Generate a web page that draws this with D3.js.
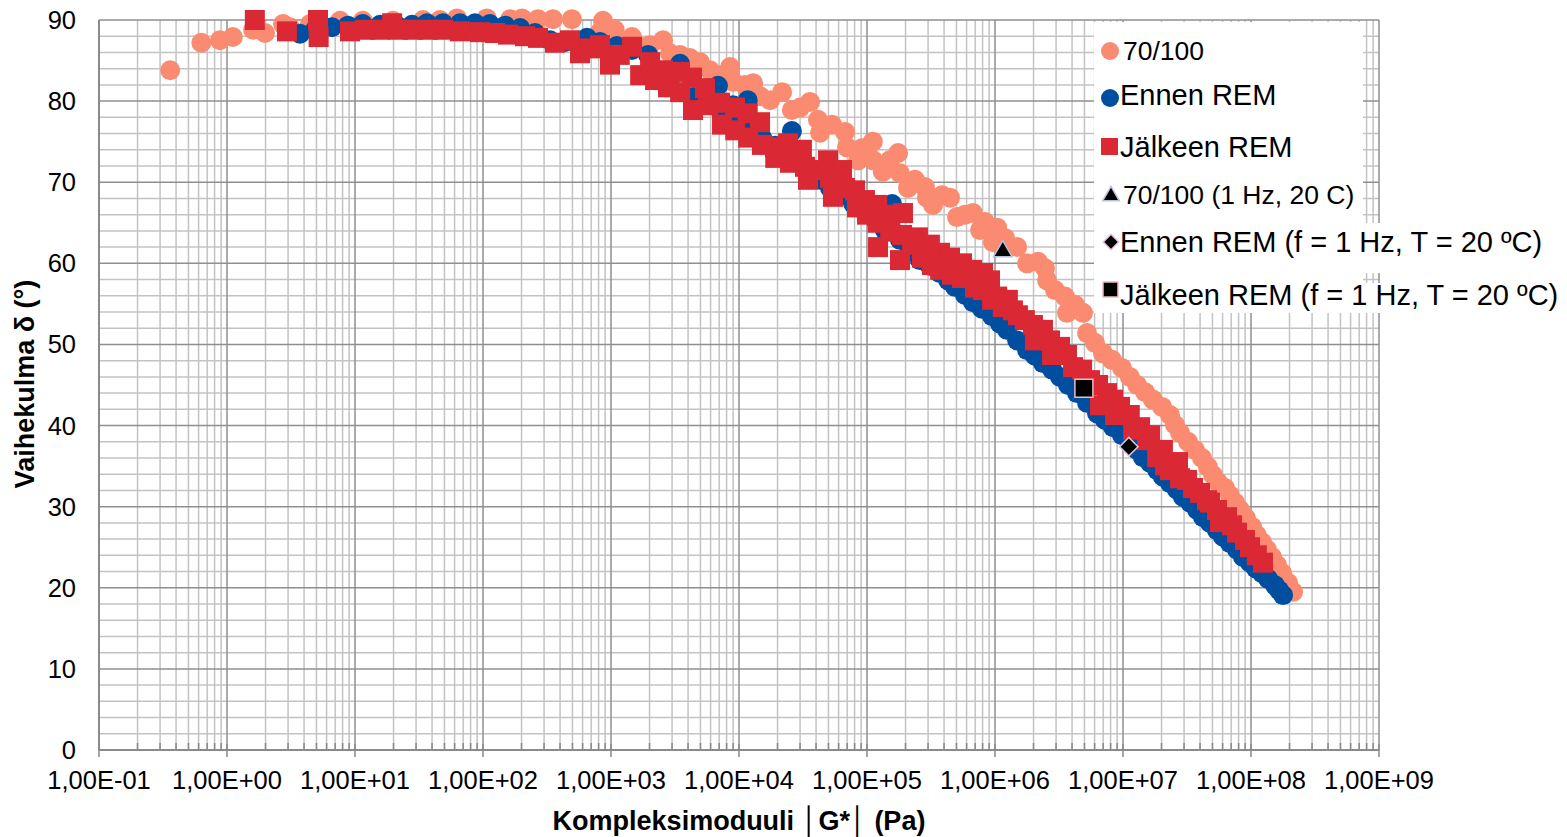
<!DOCTYPE html>
<html>
<head>
<meta charset="utf-8">
<script src="https://cdn.jsdelivr.net/npm/d3@7"></script>
<style>
body { margin: 0; background: #ffffff; }
text { font-family: "Liberation Sans", Arial, sans-serif; fill: #000; }
</style>
</head>
<body>
<script>
let width = 1567
let height = 837

// 70/100
let g70 = [0.36, 0.63, 0.88, 1.11, 1.6, 1.98, 2.74, 3.1, 4.45, 7.64, 11.5, 19.8, 34, 46.1, 62.7, 107, 163, 202, 269, 352, 495, 866, 820,
	1.46e3, 1.69e3, 2.55e3, 2.89e3, 4.14e3, 4.95e3, 7.11e3, 8.51e3, 8.97e3, 1.29e4, 1.46e4, 2.17e4, 2.59e4, 3.59e4, 4.14e4, 4.3e4, 6.73e4, 6.98e4, 8.51e4,
	1.11e5, 1.12e5, 1.33e5, 1.75e5, 1.81e5, 2.09e5, 2.84e5, 2.94e5, 3.28e5, 4.45e5, 5.05e5, 6.73e5, 7.64e5, 1.04e6, 9.64e5, 1.49e6, 1.78e6, 2.17e6, 2.55e6,
	3.52e6, 3.65e6, 4.87e6, 5.24e6, 6.98e6, 9.82e6, 1.29e7, 1.71e7, 2.33e7, 2.79e7, 3.65e7, 4.61e7, 5.52e7, 6.85e7, 8.2e7, 1.02e8, 1.22e8, 1.46e8, 1.75e8, 2.13e8,
	1.07e3, 2.02e3, 3.46e3, 5.93e3, 1.11e4, 1.75e4, 3.0e4, 5.33e4, 9.14e4, 1.51e5, 2.37e5, 3.86e5, 5.83e5, 8.35e5, 1.2e6, 2.46e6, 2.94e6, 4.22e6,
	6.04e6, 8.2e6, 1.13e7, 1.49e7, 2.02e7, 2.55e7, 3.22e7, 4.14e7, 5.05e7, 6.27e7, 7.5e7, 9.14e7, 1.11e8, 1.33e8, 1.6e8, 1.95e8]
let d70 = [83.8, 87.2, 87.5, 87.9, 88.8, 88.4, 89.5, 89.1, 89.5, 89.9, 89.9, 89.9, 90.0, 90.0, 90.2, 90.2, 90.1, 90.2, 90.1, 90.1, 90.1, 89.9, 88.5,
	87.9, 86.7, 87.5, 85.9, 85.3, 84.8, 83.2, 84.2, 82.4, 82.2, 80.6, 81.1, 78.9, 79.9, 77.7, 76.1, 76.2, 74.3, 72.7,
	75.0, 72.7, 71.3, 73.6, 71.1, 69.3, 69.4, 68.1, 67.2, 68.1, 65.7, 66.2, 64.1, 64.4, 62.6, 62.0, 60.0, 60.2, 57.9,
	55.9, 53.9, 53.9, 51.4, 48.9, 47.1, 45.0, 43.2, 41.3, 39.1, 37.0, 34.9, 33.0, 31.4, 29.6, 27.5, 25.6, 23.8, 21.8, 19.5,
	88.8, 86.9, 85.7, 83.8, 82.0, 80.1, 79.2, 77.1, 74.2, 72.7, 70.3, 68.4, 66.0, 65.1, 63.1, 59.4, 56.7, 54.9,
	50.2, 48.1, 46.0, 44.1, 42.3, 40.1, 38.0, 36.0, 33.9, 32.3, 30.5, 28.6, 26.5, 24.7, 22.8, 20.6]

// Ennen REM
let gEnnen = [3.72, 6.61, 11.5, 21.3, 36.5, 66.1, 113, 195, 334, 649, 1.11e3, 1.95e3, 2.64e3, 3.46e3, 4.37e3, 6.85e3, 7.11e3, 1.17e4, 1.22e4,
	1.91e4, 2.59e4, 3.1e4, 3.59e4, 5.93e4, 5.14e4, 7.78e4, 1.17e5, 1.57e5, 1.81e5, 2.59e5, 3.72e5, 4.87e5, 6.73e5, 9.48e5,
	1.24e6, 1.78e6, 2.37e6, 3.22e6, 4.37e6, 6.27e6, 8.35e6, 1.13e7, 1.43e7, 1.85e7, 2.33e7, 2.94e7, 3.79e7, 4.78e7, 6.04e7, 7.78e7, 9.82e7, 1.22e8, 1.54e8, 1.78e8,
	4.87, 8.81, 15.7, 27.9, 48.7, 86.6, 149, 255, 437, 820, 1.46e3, 2.33e3, 3.0e3, 5.42e3, 8.97e3, 9.31e3, 1.51e4, 2.29e4, 4.3e4, 6.73e4, 9.64e4,
	1.38e5, 2.17e5, 3.1e5, 4.3e5, 5.83e5, 7.91e5, 1.09e6, 1.49e6, 2.05e6, 2.79e6, 3.72e6, 5.24e6, 7.23e6, 9.82e6, 1.29e7, 1.63e7, 2.05e7,
	2.64e7, 3.34e7, 4.22e7, 5.42e7, 6.85e7, 8.66e7, 1.09e8, 1.36e8, 1.66e8]
let dEnnen = [88.3, 89.1, 89.5, 89.3, 89.6, 89.6, 89.5, 89.0, 87.5, 87.8, 86.8, 85.7, 82.2, 84.6, 80.5, 81.9, 78.9, 80.1, 76.4,
	74.5, 76.3, 72.1, 70.9, 70.9, 69.3, 67.4, 65.3, 67.3, 62.9, 60.4, 58.8, 57.1, 55.2, 53.5,
	51.8, 49.3, 47.7, 46.0, 44.0, 41.5, 39.8, 37.8, 36.1, 34.5, 32.9, 31.2, 29.6, 28.0, 26.3, 24.7, 23.1, 21.8, 20.3, 19.1,
	88.8, 89.3, 89.4, 89.4, 89.6, 89.6, 89.3, 88.4, 87.3, 87.3, 86.3, 83.8, 83.2, 81.1, 79.5, 77.7, 75.5, 74.0, 70.3, 68.4, 66.3,
	64.1, 61.6, 59.7, 57.9, 56.1, 54.4, 52.6, 50.5, 48.6, 46.9, 45.0, 42.8, 40.7, 38.8, 37.0, 35.4, 33.7,
	32.1, 30.5, 28.7, 27.1, 25.5, 23.8, 22.4, 21.1, 19.7]

// Jälkeen REM
let gJalkeen = [1.65, 2.94, 5.14, 5.2, 9.14, 15.7, 19.5, 28.4, 48.7, 94.8, 157, 269, 478, 573, 820, 982, 1.46e3, 1.69e3, 2.55e3, 2.79e3, 4.3e3, 4.37e3,
	7.11e3, 7.37e3, 1.17e4, 1.18e4, 1.91e4, 1.92e4, 3.1e4, 3.28e4, 3.46e4, 4.96e4, 5.14e4, 5.42e4, 8.06e4, 8.35e4, 1.2e5, 1.21e5, 1.22e5,
	1.91e5, 1.88e5, 1.81e5, 2.5e5, 2.69e5, 3.72e5, 3.73e5, 5.52e5, 5.53e5, 8.06e5, 8.07e5, 1.04e6, 1.15e6, 1.38e6, 1.71e6, 2.37e6, 3.22e6,
	4.07e6, 5.52e6, 7.5e6, 9.48e6, 1.36e7, 1.54e7, 1.85e7, 2.33e7, 3.16e7, 4.0e7, 4.78e7, 6.49e7, 7.78e7, 9.82e7, 1.24e8,
	12.0, 21.7, 37.2, 66.1, 124, 213, 365, 685, 1.17e3, 2.02e3, 2.21e3, 3.46e3, 3.47e3, 5.42e3, 5.73e3, 9.31e3, 9.35e3, 1.46e4, 1.51e4, 2.42e4, 2.5e4,
	3.93e4, 6.38e4, 6.73e4, 9.64e4, 1.0e5, 1.51e5, 1.52e5, 2.25e5, 3.1e5, 3.22e5, 4.45e5, 4.61e5, 6.61e5, 6.98e5, 9.14e5, 9.48e5, 1.26e6,
	1.51e6, 1.98e6, 2.05e6, 2.69e6, 2.79e6, 3.65e6, 4.79e6, 6.38e6, 6.61e6, 8.35e6, 8.66e6, 1.13e7, 1.2e7, 1.63e7, 2.05e7, 2.13e7, 2.69e7, 2.79e7,
	3.52e7, 4.53e7, 5.42e7, 5.73e7, 7.11e7, 8.97e7, 1.11e8]
let dJalkeen = [90.0, 88.6, 90.0, 87.9, 88.6, 88.8, 89.6, 88.8, 88.8, 88.5, 88.2, 87.8, 87.5, 85.9, 86.9, 84.5, 86.7, 83.2, 83.8, 81.7, 82.9, 78.9,
	79.8, 77.1, 78.5, 75.5, 74.3, 73.0, 74.0, 71.9, 70.3, 72.7, 70.5, 68.2, 69.0, 66.9, 67.2, 65.0, 62.0,
	66.2, 63.5, 60.4, 63.2, 60.7, 61.3, 59.2, 60.0, 58.2, 58.8, 56.7, 55.9, 54.6, 54.2, 53.0, 51.8, 49.7,
	47.2, 45.6, 44.0, 42.3, 39.8, 38.2, 36.1, 34.5, 33.3, 31.7, 30.5, 28.7, 26.8, 25.0, 23.1,
	88.8, 88.8, 88.8, 88.6, 88.4, 88.0, 87.2, 86.5, 85.7, 84.8, 82.6, 83.6, 81.1, 81.6, 79.5, 79.2, 76.4, 77.4, 74.6, 74.8, 72.4,
	71.5, 71.5, 69.3, 67.8, 66.0, 66.0, 63.9, 62.3, 62.3, 59.8, 60.7, 58.6, 59.2, 57.0, 57.9, 55.5, 55.5,
	53.6, 52.4, 50.5, 50.5, 48.7, 48.7, 46.9, 45.0, 42.5, 43.2, 41.3, 41.3, 39.5, 38.8, 37.0, 35.1, 35.5, 33.5,
	32.3, 30.8, 29.6, 28.1, 27.7, 25.9, 24.0]

// single points at f = 1 Hz, T = 20 C
let g70Ref = [1.15e6], d70Ref = [61.6]
let gEnnenRef = [1.11e7], dEnnenRef = [37.4]
let gJalkeenRef = [4.95e6], dJalkeenRef = [44.6]

let xTicks = [1e-1, 1e0, 1e1, 1e2, 1e3, 1e4, 1e5, 1e6, 1e7, 1e8, 1e9]
let xTickLabels = ["1,00E-01", "1,00E+00", "1,00E+01", "1,00E+02", "1,00E+03", "1,00E+04", "1,00E+05", "1,00E+06", "1,00E+07", "1,00E+08", "1,00E+09"]
let yTicks = [0, 10, 20, 30, 40, 50, 60, 70, 80, 90]

let legendNames = ["70/100", "Ennen REM", "Jälkeen REM", "70/100 (1 Hz, 20 C)", "Ennen REM (f = 1 Hz, T = 20 ºC)", "Jälkeen REM (f = 1 Hz, T = 20 ºC)"]

let cSalmon = "#fa8b70"
let cBlue = "#004ea0"
let cRed = "#da2834"

let x = d3.scaleLog().domain([0.1, 1e9]).range([99, 1379])
let y = d3.scaleLinear().domain([0, 90]).range([750, 20])

let svg = d3.select("body")
.append("svg")
.attr("width", width)
.attr("height", height)
.style("display", "block")
.style("background", "#ffffff")

// minor grid
let minorX = []
for (let e = -1; e < 9; e++) {
	for (let k = 2; k <= 9; k++) minorX.push(k * Math.pow(10, e))
}
let minorY = d3.range(0, 91, 2).filter(v => v % 10 !== 0)

let grid = svg.append("g")
grid.selectAll(".mx").data(minorX).enter().append("line")
.attr("x1", d => x(d)).attr("x2", d => x(d))
.attr("y1", y(90)).attr("y2", y(0))
.style("stroke", "#c3c3c3").style("stroke-width", 1.5)
grid.selectAll(".my").data(minorY).enter().append("line")
.attr("x1", x(0.1)).attr("x2", x(1e9))
.attr("y1", d => y(d)).attr("y2", d => y(d))
.style("stroke", "#c3c3c3").style("stroke-width", 1.5)
grid.selectAll(".Mx").data(xTicks).enter().append("line")
.attr("x1", d => x(d)).attr("x2", d => x(d))
.attr("y1", y(90)).attr("y2", y(0))
.style("stroke", "#8f8f8f").style("stroke-width", 1.5)
grid.selectAll(".My").data(yTicks).enter().append("line")
.attr("x1", x(0.1)).attr("x2", x(1e9))
.attr("y1", d => y(d)).attr("y2", d => y(d))
.style("stroke", "#8f8f8f").style("stroke-width", 1.5)

// x axis ticks
grid.selectAll(".tM").data(xTicks).enter().append("line")
.attr("x1", d => x(d)).attr("x2", d => x(d))
.attr("y1", y(0) - 6).attr("y2", y(0) + 7)
.style("stroke", "#8a8a8a").style("stroke-width", 1.5)
grid.selectAll(".tm").data(minorX).enter().append("line")
.attr("x1", d => x(d)).attr("x2", d => x(d))
.attr("y1", y(0) - 7).attr("y2", y(0))
.style("stroke", "#8a8a8a").style("stroke-width", 1.5)
grid.append("line")
.attr("x1", x(0.1)).attr("x2", x(1e9)).attr("y1", y(0)).attr("y2", y(0))
.style("stroke", "#8a8a8a").style("stroke-width", 2)
grid.append("line")
.attr("x1", x(0.1)).attr("x2", x(0.1)).attr("y1", y(90)).attr("y2", y(0))
.style("stroke", "#8a8a8a").style("stroke-width", 2)

// tick labels
svg.selectAll(".xl").data(xTicks).enter().append("text")
.attr("x", d => x(d)).attr("y", 789)
.attr("text-anchor", "middle")
.style("font-size", "25.5px")
.text((d, i) => xTickLabels[i])
svg.selectAll(".yl").data(yTicks).enter().append("text")
.attr("x", 76).attr("y", d => y(d) + 9)
.attr("text-anchor", "end")
.style("font-size", "25.5px")
.text(d => d)

// axis titles
svg.append("text")
.attr("x", 739).attr("y", 830)
.attr("text-anchor", "middle")
.style("font-size", "27px").style("font-weight", "bold")
.text("Kompleksimoduuli \u2502G*\u2502 (Pa)")
svg.append("text")
.attr("transform", "translate(34,384) rotate(-90)")
.attr("text-anchor", "middle")
.style("font-size", "27px").style("font-weight", "bold")
.text("Vaihekulma δ (°)")

// data
let pts = (gs, ds) => gs.map((g, i) => ({g: g, d: ds[i]}))

svg.append("g").selectAll("circle").data(pts(g70, d70)).enter().append("circle")
.attr("cx", p => x(p.g)).attr("cy", p => y(p.d)).attr("r", 10)
.style("fill", cSalmon)
svg.append("g").selectAll("circle").data(pts(gEnnen, dEnnen)).enter().append("circle")
.attr("cx", p => x(p.g)).attr("cy", p => y(p.d)).attr("r", 10)
.style("fill", cBlue)
svg.append("g").selectAll("rect").data(pts(gJalkeen, dJalkeen)).enter().append("rect")
.attr("x", p => x(p.g) - 10).attr("y", p => y(p.d) - 10)
.attr("width", 20).attr("height", 20)
.style("fill", cRed)

let tri = d3.symbol().type(d3.symbolTriangle).size(150)
let dia = d3.symbol().type(d3.symbolSquare).size(170)
svg.append("g").selectAll("path").data(pts(g70Ref, d70Ref)).enter().append("path")
.attr("d", tri)
.attr("transform", p => "translate(" + x(p.g) + "," + (y(p.d) + 1) + ")")
.style("fill", "#000").style("stroke", "#b9c0dc").style("stroke-width", 1.5)
svg.append("g").selectAll("path").data(pts(gEnnenRef, dEnnenRef)).enter().append("path")
.attr("d", dia)
.attr("transform", p => "translate(" + x(p.g) + "," + y(p.d) + ") rotate(45)")
.style("fill", "#000").style("stroke", "#e4c3dc").style("stroke-width", 1.5)
svg.append("g").selectAll("rect").data(pts(gJalkeenRef, dJalkeenRef)).enter().append("rect")
.attr("x", p => x(p.g) - 9).attr("y", p => y(p.d) - 9)
.attr("width", 18).attr("height", 18)
.style("fill", "#000").style("stroke", "#f0bcc4").style("stroke-width", 1.5)

// legend
let lg = svg.append("g")
lg.append("rect").attr("x", 1094).attr("y", 22).attr("width", 269).attr("height", 291).style("fill", "#fff")
lg.append("rect").attr("x", 1094).attr("y", 223).attr("width", 460).attr("height", 50).style("fill", "#fff")
lg.append("rect").attr("x", 1094).attr("y", 283).attr("width", 472).attr("height", 30).style("fill", "#fff")

let legendY = [60, 105, 157, 204, 252, 305]
let legendX = [1123, 1120, 1120, 1123, 1120, 1120]
let legendSize = [26.5, 29, 29, 26.5, 29, 29]
lg.selectAll("text").data(legendNames).enter().append("text")
.attr("x", (d, i) => legendX[i]).attr("y", (d, i) => legendY[i])
.style("font-size", (d, i) => legendSize[i] + "px")
.text(d => d)

lg.append("circle").attr("cx", 1110).attr("cy", 51).attr("r", 9).style("fill", cSalmon)
lg.append("circle").attr("cx", 1110).attr("cy", 98).attr("r", 9).style("fill", cBlue)
lg.append("rect").attr("x", 1101).attr("y", 138).attr("width", 17).attr("height", 17).style("fill", cRed)
lg.append("path").attr("d", d3.symbol().type(d3.symbolTriangle).size(120))
.attr("transform", "translate(1111,196)")
.style("fill", "#000").style("stroke", "#b9c0dc").style("stroke-width", 1.5)
lg.append("path").attr("d", d3.symbol().type(d3.symbolSquare).size(120))
.attr("transform", "translate(1111,242) rotate(45)")
.style("fill", "#000").style("stroke", "#e4c3dc").style("stroke-width", 1.5)
lg.append("rect").attr("x", 1103).attr("y", 282).attr("width", 15).attr("height", 15)
.style("fill", "#000").style("stroke", "#f0bcc4").style("stroke-width", 1.5)
</script>
</body>
</html>
